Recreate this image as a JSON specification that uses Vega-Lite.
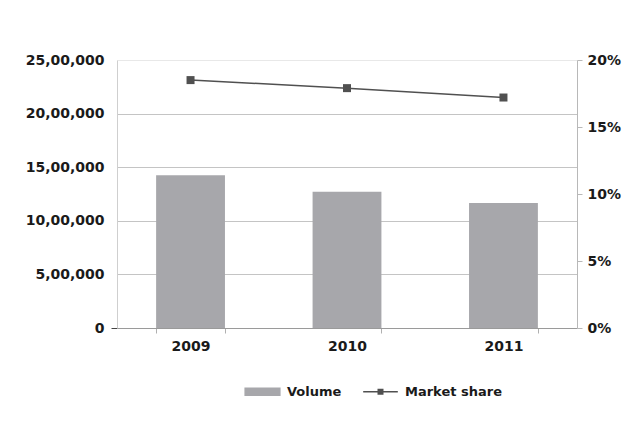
{
  "$schema": "https://vega.github.io/schema/vega-lite/v6.json",
  "autosize": "none",
  "width": 460,
  "height": 268,
  "padding": {"left": 117, "top": 60, "right": 59, "bottom": 109},
  "background": "white",
  "config": {
    "view": {"stroke": null},
    "font": "DejaVu Sans",
    "axis": {
      "labelFont": "DejaVu Sans",
      "labelFontWeight": "bold",
      "labelFontSize": 14,
      "labelColor": "#1a1a1a",
      "titleFontSize": 0
    }
  },
  "data": {
    "values": [
      {"year": "2009", "volume": 1425000, "share": 0.185},
      {"year": "2010", "volume": 1270000, "share": 0.179},
      {"year": "2011", "volume": 1166000, "share": 0.172}
    ]
  },
  "encoding": {
    "x": {
      "field": "year",
      "type": "ordinal",
      "title": null,
      "scale": {"paddingInner": 0.56, "paddingOuter": 0.25},
      "axis": {
        "labelAngle": 0,
        "labelPadding": 6,
        "domainColor": "#9a9a9a",
        "tickColor": "#b0b0b0",
        "tickBand": "extent",
        "tickSize": 5,
        "grid": false
      }
    }
  },
  "layer": [
    {
      "mark": {"type": "bar", "color": "#a7a7ab"},
      "encoding": {
        "y": {
          "field": "volume",
          "type": "quantitative",
          "title": null,
          "scale": {"domain": [0, 2500000], "nice": false},
          "axis": {
            "orient": "left",
            "values": [0, 500000, 1000000, 1500000, 2000000, 2500000],
            "labelExpr": "datum.value == 0 ? '0' : format(datum.value / 100000, 'd') + ',00,000'",
            "labelPadding": 7,
            "domainColor": "#cfcfcf",
            "ticks": true,
            "tickSize": 6,
            "tickColor": "#444",
            "tickOpacity": {"condition": {"test": "datum.value === 0", "value": 1}, "value": 0},
            "grid": true,
            "gridColor": {"condition": {"test": "datum.value === 2500000", "value": "#e8e8e8"}, "value": "#c4c4c4"},
            "gridWidth": 1
          }
        },
        "color": {
          "datum": "Volume",
          "type": "nominal",
          "scale": {"domain": ["Volume", "Market share"], "range": ["#a7a7ab", "#505050"]},
          "legend": {
            "title": null,
            "orient": "none",
            "legendX": 127,
            "legendY": 313,
            "direction": "horizontal",
            "columnPadding": 18,
            "labelFont": "DejaVu Sans",
            "labelFontWeight": "bold",
            "labelFontSize": 13,
            "labelColor": "#1a1a1a",
            "labelOffset": 6,
            "symbolSize": 1200,
            "encode": {
              "symbols": {
                "update": {
                  "shape": {"signal": "datum.value === 'Volume' ? 'M-1,-0.2H1V0.2H-1Z' : 'M-1,0H1M-0.13,-0.13H0.13V0.13H-0.13Z'"},
                  "fill": {"signal": "datum.value === 'Volume' ? '#a7a7ab' : '#505050'"},
                  "stroke": {"signal": "datum.value === 'Volume' ? null : '#505050'"},
                  "strokeWidth": {"value": 1.5},
                  "opacity": {"value": 1},
                  "fillOpacity": {"value": 1}
                }
              }
            }
          }
        }
      }
    },
    {
      "mark": {
        "type": "line",
        "color": "#505050",
        "strokeWidth": 1.5,
        "point": {"shape": "square", "size": 64, "filled": true, "color": "#555555"}
      },
      "encoding": {
        "y": {
          "field": "share",
          "type": "quantitative",
          "title": null,
          "scale": {"domain": [0, 0.2], "nice": false},
          "axis": {
            "orient": "right",
            "values": [0, 0.05, 0.1, 0.15, 0.2],
            "format": ".0%",
            "labelPadding": 5,
            "domainColor": "#b8b8b8",
            "tickColor": "#b8b8b8",
            "tickSize": 5,
            "grid": false
          }
        },
        "color": {"datum": "Market share", "type": "nominal"}
      }
    }
  ],
  "resolve": {"scale": {"y": "independent"}}
}
